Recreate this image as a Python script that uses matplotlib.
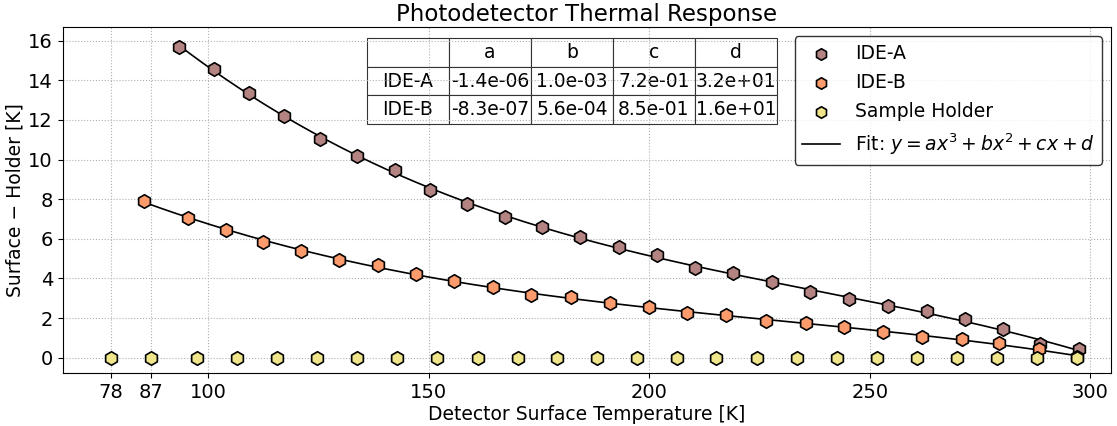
import numpy as np
import matplotlib
matplotlib.use("Agg")
import matplotlib.pyplot as plt

# values
holder_T = [78.0, 87.0, 97.4, 106.5, 115.6, 124.6, 133.8, 142.9, 151.9, 161.1,
            170.2, 179.0, 188.1, 197.2, 206.3, 215.2, 224.4, 233.6, 242.6, 251.7,
            260.8, 269.8, 278.9, 287.9, 297.0]
holder_dT = [0.0] * len(holder_T)

ide_a_T = [93.4, 101.4, 109.3, 117.2, 125.3, 133.7, 142.4, 150.2, 158.7, 167.2,
           175.8, 184.4, 193.1, 201.7, 210.3, 219.0, 227.8, 236.4, 245.2, 254.1,
           262.9, 271.7, 280.2, 288.6, 297.5]
ide_a_dT = [15.67, 14.56, 13.38, 12.20, 11.02, 10.20, 9.49, 8.45, 7.77, 7.12,
            6.61, 6.09, 5.59, 5.18, 4.54, 4.29, 3.81, 3.30, 2.95, 2.61,
            2.36, 1.97, 1.45, 0.68, 0.42]

ide_b_T = [85.5, 95.5, 104.0, 112.5, 121.0, 129.6, 138.4, 147.1, 155.8, 164.5,
           173.3, 182.3, 191.1, 199.9, 208.5, 217.5, 226.4, 235.5, 244.2, 253.1,
           261.9, 270.9, 279.4, 288.4, 297.0]
ide_b_dT = [7.93, 7.04, 6.45, 5.86, 5.39, 4.93, 4.66, 4.23, 3.89, 3.58,
            3.17, 3.05, 2.75, 2.57, 2.26, 2.14, 1.85, 1.77, 1.56, 1.31,
            1.03, 0.93, 0.73, 0.42, 0.05]

col_labels = ["", "a", "b", "c", "d"]
table_rows = [["IDE-A", "-1.4e-06", "1.0e-03", "7.2e-01", "3.2e+01"],
              ["IDE-B", "-8.3e-07", "5.6e-04", "8.5e-01", "1.6e+01"]]

xtick_vals = [78, 87, 100, 150, 200, 250, 300]
ytick_vals = [0, 2, 4, 6, 8, 10, 12, 14, 16]

colors = {"IDE-A": "#b48482", "IDE-B": "#fc9b6c", "Sample Holder": "#efe68c"}


def main():
    fig = plt.figure(figsize=(11.17, 4.26), dpi=100)
    ax = fig.add_axes([0.0561, 0.1237, 0.9385, 0.8136])

    series = [("IDE-A", ide_a_T, ide_a_dT),
              ("IDE-B", ide_b_T, ide_b_dT),
              ("Sample Holder", holder_T, holder_dT)]

    for name, t, dt in series:
        ax.scatter(t, dt, marker="h", s=95, color=colors[name],
                   edgecolor="black", linewidth=1.2, label=name, zorder=3)

    # cubic fits through the two detector series
    for name, t, dt in series[:2]:
        coef = np.polyfit(t, dt, 3)
        xs = np.linspace(min(t), max(t), 300)
        ax.plot(xs, np.polyval(coef, xs), color="black", lw=1.2, zorder=2)
    ax.plot([], [], color="black", lw=1.2, label="Fit: $y = ax^3 + bx^2 + cx + d$")

    ax.set_xlim(67.0, 304.7)
    ax.set_ylim(-0.79, 16.71)
    ax.set_xticks(xtick_vals)
    ax.set_yticks(ytick_vals)
    ax.tick_params(labelsize=14)
    ax.grid(True, linestyle=":", color="#b0b0b0", lw=0.8)
    ax.set_axisbelow(True)

    ax.set_title("Photodetector Thermal Response", fontsize=16.5, pad=4)
    ax.set_xlabel("Detector Surface Temperature [K]", fontsize=13.5, labelpad=2)
    ax.set_ylabel("Surface \u2212 Holder [K]", fontsize=13.5, labelpad=3)

    ax.legend(loc="upper right", fontsize=13.5, edgecolor="black",
              handlelength=2.0, borderaxespad=0.5, labelspacing=0.55,
              markerscale=0.85)

    tbl = ax.table(cellText=table_rows, colLabels=col_labels,
                   cellLoc="center", bbox=[0.2903, 0.7193, 0.3911, 0.2481])
    tbl.auto_set_font_size(False)
    tbl.set_fontsize(13.5)
    for cell in tbl.get_celld().values():
        cell.set_linewidth(0.8)
        cell.set_edgecolor("#333333")
        cell.set_facecolor("white")

    fig.savefig("out.png", dpi=100)


if __name__ == "__main__":
    main()
